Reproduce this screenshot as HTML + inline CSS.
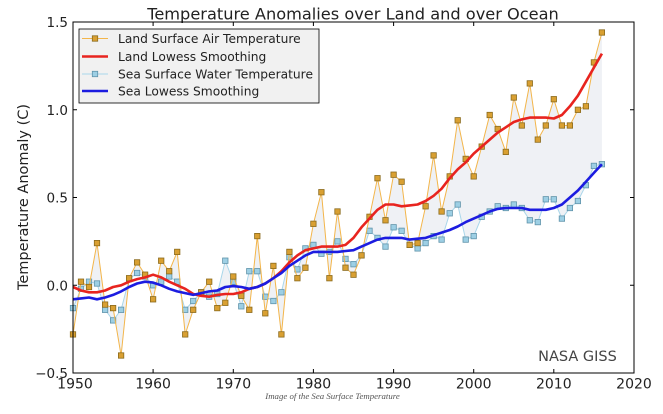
<!DOCTYPE html>
<html><head><meta charset="utf-8"><style>
html,body{margin:0;padding:0;background:#fff;}
svg{display:block;}
text{font-family:"DejaVu Sans","Liberation Sans",sans-serif;fill:#222;}
</style></head><body>
<svg width="663" height="414" viewBox="0 0 663 414" xmlns="http://www.w3.org/2000/svg">
<defs>
<marker id="mo" markerUnits="userSpaceOnUse" markerWidth="8" markerHeight="8" refX="4" refY="4"><rect x="1.3" y="1.3" width="5.4" height="5.4" fill="#d9a032" stroke="#8a6a1c" stroke-width="0.8"/></marker>
<marker id="mb" markerUnits="userSpaceOnUse" markerWidth="8" markerHeight="8" refX="4" refY="4"><rect x="1.3" y="1.3" width="5.4" height="5.4" fill="#9dcfe4" stroke="#5f93aa" stroke-width="0.8"/></marker>
</defs>
<rect width="663" height="414" fill="#fff"/>
<text x="353" y="19.5" font-size="16.2" text-anchor="middle">Temperature Anomalies over Land and over Ocean</text>

<!-- fill between -->
<polygon fill="#e2e5ec" fill-opacity="0.55" points="73.0,334.4 81.0,281.7 89.0,287.0 97.0,243.1 105.1,304.6 113.1,308.1 121.1,355.5 129.1,278.2 137.1,262.4 145.1,274.7 153.1,299.3 161.2,260.7 169.2,271.2 177.2,251.9 185.2,334.4 193.2,309.8 201.2,292.3 209.2,281.7 217.3,308.1 225.3,302.8 233.3,276.5 241.3,295.8 249.3,309.8 257.3,236.1 265.3,313.3 273.4,265.9 281.4,334.4 289.4,251.9 297.4,278.2 305.4,267.7 313.4,223.8 321.4,192.2 329.4,278.2 337.5,211.5 345.5,267.7 353.5,274.7 361.5,255.4 369.5,216.8 377.5,178.2 385.5,220.3 393.6,174.7 401.6,181.7 409.6,244.9 417.6,243.1 425.6,206.3 433.6,155.4 441.6,211.5 449.7,176.4 457.7,120.3 465.7,158.9 473.7,176.4 481.7,146.6 489.7,115.0 497.7,129.0 505.8,151.9 513.8,97.5 521.8,125.5 529.8,83.4 537.8,139.6 545.8,125.5 553.8,99.2 561.9,125.5 569.9,125.5 577.9,109.8 585.9,106.3 593.9,62.4 601.9,32.5 601.9,164.2 593.9,165.9 585.9,185.2 577.9,201.0 569.9,208.0 561.9,218.6 553.8,199.3 545.8,199.3 537.8,222.1 529.8,220.3 521.8,208.0 513.8,204.5 505.8,208.0 497.7,206.3 489.7,211.5 481.7,216.8 473.7,236.1 465.7,239.6 457.7,204.5 449.7,213.3 441.6,239.6 433.6,236.1 425.6,243.1 417.6,248.4 409.6,244.9 401.6,230.8 393.6,227.3 385.5,246.6 377.5,237.9 369.5,230.8 361.5,255.4 353.5,264.2 345.5,258.9 337.5,241.4 329.4,251.9 321.4,253.7 313.4,244.9 305.4,248.4 297.4,269.4 289.4,257.2 281.4,292.3 273.4,301.0 265.3,296.7 257.3,271.2 249.3,271.2 241.3,306.3 233.3,281.7 225.3,260.7 217.3,294.0 209.2,296.7 201.2,292.3 193.2,301.0 185.2,309.8 177.2,281.7 169.2,276.5 161.2,281.7 153.1,285.3 145.1,276.5 137.1,273.0 129.1,279.1 121.1,309.8 113.1,320.4 105.1,309.8 97.0,283.5 89.0,281.7 81.0,288.8 73.0,308.1"/>

<!-- sea raw -->
<polyline fill="none" stroke="#a9d6ea" stroke-width="1" marker-start="url(#mb)" marker-mid="url(#mb)" marker-end="url(#mb)" points="73.0,308.1 81.0,288.8 89.0,281.7 97.0,283.5 105.1,309.8 113.1,320.4 121.1,309.8 129.1,279.1 137.1,273.0 145.1,276.5 153.1,285.3 161.2,281.7 169.2,276.5 177.2,281.7 185.2,309.8 193.2,301.0 201.2,292.3 209.2,296.7 217.3,294.0 225.3,260.7 233.3,281.7 241.3,306.3 249.3,271.2 257.3,271.2 265.3,296.7 273.4,301.0 281.4,292.3 289.4,257.2 297.4,269.4 305.4,248.4 313.4,244.9 321.4,253.7 329.4,251.9 337.5,241.4 345.5,258.9 353.5,264.2 361.5,255.4 369.5,230.8 377.5,237.9 385.5,246.6 393.6,227.3 401.6,230.8 409.6,244.9 417.6,248.4 425.6,243.1 433.6,236.1 441.6,239.6 449.7,213.3 457.7,204.5 465.7,239.6 473.7,236.1 481.7,216.8 489.7,211.5 497.7,206.3 505.8,208.0 513.8,204.5 521.8,208.0 529.8,220.3 537.8,222.1 545.8,199.3 553.8,199.3 561.9,218.6 569.9,208.0 577.9,201.0 585.9,185.2 593.9,165.9 601.9,164.2"/>

<!-- land raw -->
<polyline fill="none" stroke="#f3b54a" stroke-width="1" marker-start="url(#mo)" marker-mid="url(#mo)" marker-end="url(#mo)" points="73.0,334.4 81.0,281.7 89.0,287.0 97.0,243.1 105.1,304.6 113.1,308.1 121.1,355.5 129.1,278.2 137.1,262.4 145.1,274.7 153.1,299.3 161.2,260.7 169.2,271.2 177.2,251.9 185.2,334.4 193.2,309.8 201.2,292.3 209.2,281.7 217.3,308.1 225.3,302.8 233.3,276.5 241.3,295.8 249.3,309.8 257.3,236.1 265.3,313.3 273.4,265.9 281.4,334.4 289.4,251.9 297.4,278.2 305.4,267.7 313.4,223.8 321.4,192.2 329.4,278.2 337.5,211.5 345.5,267.7 353.5,274.7 361.5,255.4 369.5,216.8 377.5,178.2 385.5,220.3 393.6,174.7 401.6,181.7 409.6,244.9 417.6,243.1 425.6,206.3 433.6,155.4 441.6,211.5 449.7,176.4 457.7,120.3 465.7,158.9 473.7,176.4 481.7,146.6 489.7,115.0 497.7,129.0 505.8,151.9 513.8,97.5 521.8,125.5 529.8,83.4 537.8,139.6 545.8,125.5 553.8,99.2 561.9,125.5 569.9,125.5 577.9,109.8 585.9,106.3 593.9,62.4 601.9,32.5"/>

<!-- red lowess -->
<polyline fill="none" stroke="#e8241f" stroke-width="2.6" stroke-linejoin="round" points="73.0,287.0 81.0,290.5 89.0,292.3 97.0,292.3 105.1,290.5 113.1,287.0 121.1,285.3 129.1,281.7 137.1,279.1 145.1,277.4 153.1,274.7 161.2,277.4 169.2,281.7 177.2,285.3 185.2,288.8 193.2,294.0 201.2,295.8 209.2,296.7 217.3,294.9 225.3,294.0 233.3,294.0 241.3,292.3 249.3,288.8 257.3,287.0 265.3,283.5 273.4,278.2 281.4,271.2 289.4,262.4 297.4,255.4 305.4,250.2 313.4,248.4 321.4,246.6 329.4,246.6 337.5,246.6 345.5,244.9 353.5,237.9 361.5,227.3 369.5,218.5 377.5,209.8 385.5,204.5 393.6,204.5 401.6,206.3 409.6,205.4 417.6,204.5 425.6,201.0 433.6,195.8 441.6,188.7 449.7,178.2 457.7,169.4 465.7,162.4 473.7,153.6 481.7,146.6 489.7,139.6 497.7,132.6 505.8,127.3 513.8,122.0 521.8,119.4 529.8,117.6 537.8,117.6 545.8,117.6 553.8,118.5 561.9,115.0 569.9,106.3 577.9,95.7 585.9,81.7 593.9,67.6 601.9,53.6"/>

<!-- blue lowess -->
<polyline fill="none" stroke="#1c1ce0" stroke-width="2.6" stroke-linejoin="round" points="73.0,299.3 81.0,298.4 89.0,297.5 97.0,299.3 105.1,297.5 113.1,294.9 121.1,291.4 129.1,287.0 137.1,283.5 145.1,281.7 153.1,282.6 161.2,285.3 169.2,288.8 177.2,291.4 185.2,293.1 193.2,294.9 201.2,293.1 209.2,291.4 217.3,290.5 225.3,287.0 233.3,286.1 241.3,287.0 249.3,288.8 257.3,287.0 265.3,283.5 273.4,278.2 281.4,273.0 289.4,265.9 297.4,260.7 305.4,255.4 313.4,251.9 321.4,251.9 329.4,251.9 337.5,251.9 345.5,251.0 353.5,250.2 361.5,246.6 369.5,243.1 377.5,239.6 385.5,237.9 393.6,237.9 401.6,237.9 409.6,239.6 417.6,238.7 425.6,237.9 433.6,235.2 441.6,232.6 449.7,230.0 457.7,226.5 465.7,222.1 473.7,218.6 481.7,215.1 489.7,211.5 497.7,208.9 505.8,208.0 513.8,208.0 521.8,208.0 529.8,209.8 537.8,209.8 545.8,209.8 553.8,208.0 561.9,204.5 569.9,197.5 577.9,190.5 585.9,181.7 593.9,172.9 601.9,164.2"/>

<!-- axes frame -->
<rect x="73" y="22" width="561" height="351" fill="none" stroke="#000" stroke-width="1"/>
<!-- ticks -->
<g stroke="#000" stroke-width="1">
<path d="M153.1,373v-4M233.3,373v-4M313.4,373v-4M393.6,373v-4M473.7,373v-4M553.8,373v-4"/>
<path d="M153.1,22v4M233.3,22v4M313.4,22v4M393.6,22v4M473.7,22v4M553.8,22v4"/>
<path d="M73,109.75h4M73,197.5h4M73,285.25h4M634,109.75h-4M634,197.5h-4M634,285.25h-4"/>
</g>
<!-- y tick labels -->
<g font-size="13.5" text-anchor="end">
<text x="68" y="27">1.5</text>
<text x="68" y="115">1.0</text>
<text x="68" y="202.5">0.5</text>
<text x="68" y="290.5">0.0</text>
<text x="68" y="378">−0.5</text>
</g>
<!-- x tick labels -->
<g font-size="14" text-anchor="middle">
<text x="75" y="388.5">1950</text>
<text x="153.1" y="388.5">1960</text>
<text x="233.3" y="388.5">1970</text>
<text x="313.4" y="388.5">1980</text>
<text x="393.6" y="388.5">1990</text>
<text x="473.7" y="388.5">2000</text>
<text x="553.8" y="388.5">2010</text>
<text x="634" y="388.5">2020</text>
</g>
<text x="0" y="0" font-size="14.5" text-anchor="middle" transform="translate(28,197) rotate(-90)">Temperature Anomaly (C)</text>

<!-- legend -->
<rect x="79" y="29" width="240" height="74" fill="#f1f1f1" stroke="#000" stroke-width="0.8"/>
<line x1="82" y1="38.5" x2="108" y2="38.5" stroke="#f3b54a" stroke-width="1"/>
<rect x="92.3" y="35.8" width="5.4" height="5.4" fill="#d9a032" stroke="#8a6a1c" stroke-width="0.8"/>
<line x1="82" y1="56.5" x2="108" y2="56.5" stroke="#e8241f" stroke-width="2.6"/>
<line x1="82" y1="74" x2="108" y2="74" stroke="#a9d6ea" stroke-width="1"/>
<rect x="92.3" y="71.3" width="5.4" height="5.4" fill="#9dcfe4" stroke="#5f93aa" stroke-width="0.8"/>
<line x1="82" y1="91" x2="108" y2="91" stroke="#1c1ce0" stroke-width="2.6"/>
<g font-size="12.25">
<text x="118" y="42.8">Land Surface Air Temperature</text>
<text x="118" y="60.8">Land Lowess Smoothing</text>
<text x="118" y="78.3">Sea Surface Water Temperature</text>
<text x="118" y="95.3">Sea Lowess Smoothing</text>
</g>

<text x="577.5" y="361" font-size="14.5" text-anchor="middle" style="fill:#444">NASA GISS</text>
<text x="332.5" y="399" font-size="8.8" text-anchor="middle" font-style="italic" style="font-family:'Liberation Serif',serif;fill:#555">Image of the Sea Surface Temperature</text>
</svg>
</body></html>
